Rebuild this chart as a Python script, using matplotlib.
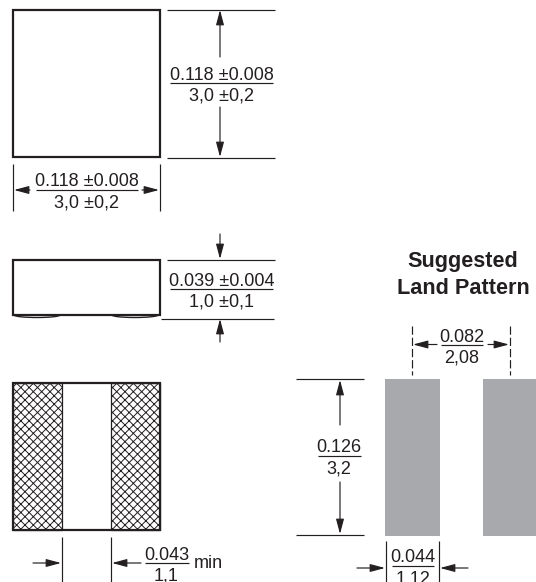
import matplotlib
matplotlib.use('Agg')
import matplotlib.pyplot as plt
from matplotlib.patches import Rectangle, Arc

plt.rcParams['font.family'] = ['Liberation Sans', 'DejaVu Sans']
plt.rcParams['hatch.linewidth'] = 0.7

INK = '#231f20'
PAD_GRAY = '#a7a9ac'

# Everything is measured in reference pixels (x, y from the top left)
# body outlines: x, y, width, height
top_view = (13, 9.5, 147, 147)
side_view = (13, 260, 147, 55)
bottom_view = (13, 383, 147, 147)
terminals = [(13, 383, 49, 147), (111, 383, 49, 147)]
land_pads = [(385, 379, 55, 157), (483, 379, 55, 157)]

# plain extension lines: x0, y0, x1, y1
ext_lines = [
    (167, 9.5, 275, 9.5), (167, 158, 275, 158),
    (13, 164, 13, 211), (160, 164, 160, 211),
    (167, 260, 275, 260), (161, 318.5, 274, 318.5),
    (62, 537, 62, 582), (111, 537, 111, 582),
    (296, 379, 364, 379), (296, 535, 364, 535),
    (386, 541, 386, 582), (439, 541, 439, 582),
]
dashed_lines = [(412, 326, 412, 375), (510, 326, 510, 375)]

# dimension arrows: tail x, tail y, tip x, tip y
dim_arrows = [
    (220, 57, 220, 10), (220, 107, 220, 157),
    (30, 190, 14, 190), (142, 190, 159, 190),
    (220, 234, 220, 259), (220, 342, 220, 319),
    (33, 563, 61, 563), (141, 563, 112, 563),
    (437, 344.5, 413, 344.5), (488, 344.5, 509, 344.5),
    (340, 425, 340, 380), (340, 482, 340, 534),
    (357, 568, 385, 568), (468, 568, 440, 568),
]

# fractions: centre x, rule y, half rule width, inch label, mm label
fractions = [
    (221.5, 83, 51.5, '0.118 ±0.008', '3,0 ±0,2'),
    (87, 190, 51, '0.118 ±0.008', '3,0 ±0,2'),
    (221.5, 289, 51.5, '0.039 ±0.004', '1,0 ±0,1'),
    (166.5, 563, 22, '0.043', '1,1'),
    (462, 345, 21, '0.082', '2,08'),
    (339, 456, 21.5, '0.126', '3,2'),
    (413, 566, 21, '0.044', '1,12'),
]

title_lines = ['Suggested', 'Land Pattern']
title_y = [267, 294]


def main():
    fig = plt.figure(figsize=(5.36, 5.82), dpi=100)
    ax = fig.add_axes([0, 0, 1, 1])
    ax.set_xlim(0, 536)
    ax.set_ylim(582, 0)
    ax.axis('off')

    # Terminals and pads go under the outlines
    for x, y, w, h in terminals:
        ax.add_patch(Rectangle((x, y), w, h, facecolor='white', edgecolor=INK,
                               hatch='xxxx', linewidth=0.9))
    for x, y, w, h in land_pads:
        ax.add_patch(Rectangle((x, y), w, h, facecolor=PAD_GRAY, edgecolor='none'))

    for box in (top_view, side_view, bottom_view):
        x, y, w, h = box
        ax.add_patch(Rectangle((x, y), w, h, facecolor='none', edgecolor=INK, linewidth=1.6))

    # Solder bumps under the side view
    for x_mid in (37, 135):
        ax.add_patch(Arc((x_mid, 315), 46, 5, theta1=0, theta2=180, color=INK, linewidth=1.0))

    for x0, y0, x1, y1 in ext_lines:
        ax.plot([x0, x1], [y0, y1], color=INK, linewidth=0.85, solid_capstyle='butt')
    for x0, y0, x1, y1 in dashed_lines:
        ax.plot([x0, x1], [y0, y1], color=INK, linewidth=0.85, dashes=(7, 2.5))

    for x0, y0, x1, y1 in dim_arrows:
        ax.annotate('', xy=(x1, y1), xytext=(x0, y0),
                    arrowprops=dict(arrowstyle='-|>,head_length=0.9,head_width=0.24', color=INK,
                                    linewidth=0.85, shrinkA=0, shrinkB=0))

    for cx, rule_y, half, top, bottom in fractions:
        ax.plot([cx - half, cx + half], [rule_y, rule_y], color=INK, linewidth=0.85,
                solid_capstyle='butt')
        ax.text(cx, rule_y - 3.5, top, ha='center', va='baseline', fontsize=13, color=INK)
        ax.text(cx, rule_y + 17.5, bottom, ha='center', va='baseline', fontsize=13, color=INK)

    ax.text(194, 568, 'min', ha='left', va='baseline', fontsize=13, color=INK)

    for line, y in zip(title_lines, title_y):
        ax.text(463, y, line, ha='center', va='baseline', fontsize=15.6, fontweight='bold', color=INK)

    fig.savefig('out.png', dpi=100)


if __name__ == '__main__':
    main()
